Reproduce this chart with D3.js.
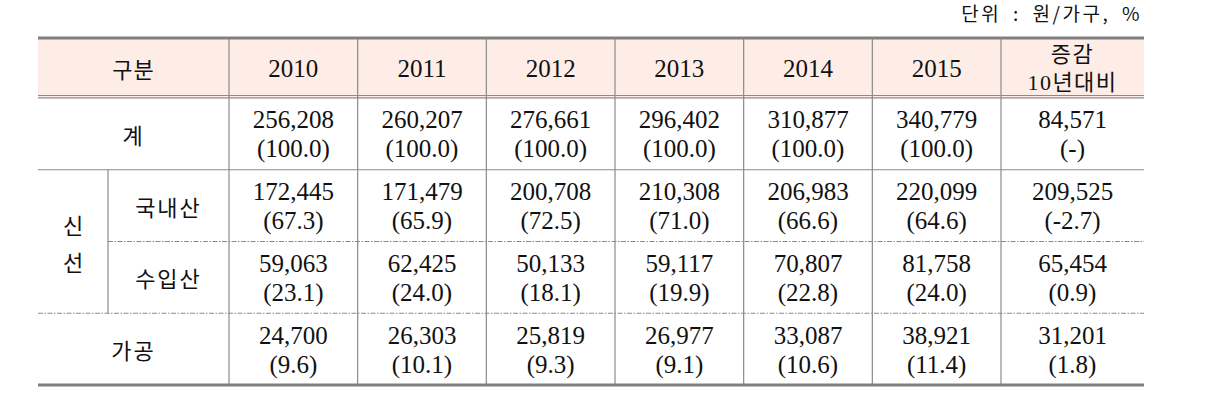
<!DOCTYPE html>
<html>
<head>
<meta charset="utf-8">
<script src="https://cdn.jsdelivr.net/npm/d3@7"></script>
<style>
  body { margin: 0; background: #fff; }
  text { font-family: "Liberation Serif", "Noto Sans CJK KR", serif; fill: #111; }
  .ko { font-family: "Noto Sans CJK KR", sans-serif; }
</style>
</head>
<body>
<script>
// columns
var years = ["2010", "2011", "2012", "2013", "2014", "2015"];
var changeHead = ["증감", "10년대비"];
// rows
var rowKeys = ["계", "국내산", "수입산", "가공"];
var groupLabel = ["신", "선"];
// values (원/가구), years then 10년대비 change
var totalVals    = [256208, 260207, 276661, 296402, 310877, 340779, 84571];
var domesticVals = [172445, 171479, 200708, 210308, 206983, 220099, 209525];
var importVals   = [59063, 62425, 50133, 59117, 70807, 81758, 65454];
var processVals  = [24700, 26303, 25819, 26977, 33087, 38921, 31201];
// shares (%)
var totalShare    = [100.0, 100.0, 100.0, 100.0, 100.0, 100.0, null];
var domesticShare = [67.3, 65.9, 72.5, 71.0, 66.6, 64.6, -2.7];
var importShare   = [23.1, 24.0, 18.1, 19.9, 22.8, 24.0, 0.9];
var processShare  = [9.6, 10.1, 9.3, 9.1, 10.6, 11.4, 1.8];

var rows = [
  {key: "계", vals: totalVals, share: totalShare},
  {key: "국내산", vals: domesticVals, share: domesticShare},
  {key: "수입산", vals: importVals, share: importShare},
  {key: "가공", vals: processVals, share: processShare}
];

// note: "top" is taken by window.top, so tTop/tBottom
var tLeft = 38, tRight = 1144, labelRight = 229, subLeft = 108;
var tTop = 38, headBottom = 97, tBottom = 385;
var grid = "#8a8a8a";

var cols = years.concat(["chg"]);
// year columns share one width, change column is a bit wider
var x = d3.scaleBand().domain(years).range([labelRight, 1001]);
var colX = c => c === "chg" ? 1001 : x(c);
var colW = c => c === "chg" ? tRight - 1001 : x.bandwidth();

var y = d3.scaleBand().domain(rowKeys).range([headBottom + 1, tBottom]);

var svg = d3.select("body").append("svg")
  .attr("width", 1217)
  .attr("height", 401);

// unit note
svg.append("text")
  .attr("class", "ko")
  .attr("x", tRight - 2)
  .attr("y", 21)
  .attr("text-anchor", "end")
  .attr("font-size", 19)
  .attr("letter-spacing", 2.5)
  .attr("word-spacing", 5)
  .text("단위 : 원/가구, %");

// header background
svg.append("rect")
  .attr("x", tLeft).attr("y", tTop)
  .attr("width", tRight - tLeft).attr("height", headBottom - tTop)
  .attr("fill", "#fdede6");

// vertical grid lines
svg.selectAll("line.v")
  .data(cols)
  .enter().append("line")
  .attr("class", "v")
  .attr("x1", d => colX(d)).attr("x2", d => colX(d))
  .attr("y1", tTop).attr("y2", tBottom)
  .attr("stroke", grid).attr("stroke-width", 1.2);

svg.append("line")
  .attr("x1", subLeft).attr("x2", subLeft)
  .attr("y1", y("국내산")).attr("y2", y("가공"))
  .attr("stroke", grid).attr("stroke-width", 1.2);

// header double line
[headBottom - 1.5, headBottom + 0.8].forEach(function(yy) {
  svg.append("line")
    .attr("x1", tLeft).attr("x2", tRight)
    .attr("y1", yy).attr("y2", yy)
    .attr("stroke", grid).attr("stroke-width", 1.2);
});

// solid line under 계
svg.append("line")
  .attr("x1", tLeft).attr("x2", tRight)
  .attr("y1", y("국내산")).attr("y2", y("국내산"))
  .attr("stroke", grid).attr("stroke-width", 1.2);

// dashed lines
svg.append("line")
  .attr("x1", subLeft).attr("x2", tRight)
  .attr("y1", y("수입산")).attr("y2", y("수입산"))
  .attr("stroke", grid).attr("stroke-width", 1)
  .attr("stroke-dasharray", "5,1.5,1.5,1.5");
svg.append("line")
  .attr("x1", tLeft).attr("x2", tRight)
  .attr("y1", y("가공")).attr("y2", y("가공"))
  .attr("stroke", grid).attr("stroke-width", 1)
  .attr("stroke-dasharray", "5,1.5,1.5,1.5");

// thick top / bottom rules
[tTop, tBottom].forEach(function(yy) {
  svg.append("line")
    .attr("x1", tLeft).attr("x2", tRight)
    .attr("y1", yy).attr("y2", yy)
    .attr("stroke", "#808080").attr("stroke-width", 3);
});

// header texts
var hMid = (tTop + headBottom) / 2;
svg.append("text")
  .attr("class", "ko")
  .attr("x", (tLeft + labelRight) / 2).attr("y", hMid)
  .attr("text-anchor", "middle").attr("dominant-baseline", "central")
  .attr("font-size", 22).attr("letter-spacing", 1)
  .text("구분");

svg.selectAll("text.year")
  .data(years)
  .enter().append("text")
  .attr("class", "year")
  .attr("x", d => x(d) + x.bandwidth() / 2).attr("y", hMid + 1)
  .attr("text-anchor", "middle").attr("dominant-baseline", "central")
  .attr("font-size", 25)
  .text(d => d);

svg.selectAll("text.chg")
  .data(changeHead)
  .enter().append("text")
  .attr("class", "chg")
  .attr("x", colX("chg") + colW("chg") / 2)
  .attr("y", (d, i) => hMid - 13 + i * 28)
  .attr("text-anchor", "middle").attr("dominant-baseline", "central")
  .attr("font-size", 22).attr("letter-spacing", 1.5)
  .text(d => d);

// row labels
var rowLabel = function(key, cx) {
  svg.append("text")
    .attr("class", "ko")
    .attr("x", cx).attr("y", y(key) + y.bandwidth() / 2)
    .attr("text-anchor", "middle").attr("dominant-baseline", "central")
    .attr("font-size", 22).attr("letter-spacing", 2)
    .text(key);
};
rowLabel("계", (tLeft + labelRight) / 2);
rowLabel("가공", (tLeft + labelRight) / 2);
rowLabel("국내산", (subLeft + labelRight) / 2);
rowLabel("수입산", (subLeft + labelRight) / 2);

var groupMid = (y("국내산") + y("가공")) / 2;
svg.selectAll("text.grp")
  .data(groupLabel)
  .enter().append("text")
  .attr("class", "ko grp")
  .attr("x", (tLeft + subLeft) / 2)
  .attr("y", (d, i) => groupMid - 18 + i * 37)
  .attr("text-anchor", "middle").attr("dominant-baseline", "central")
  .attr("font-size", 22)
  .text(d => d);

// cells
var fmt = d3.format(",");
var shareText = v => v === null ? "(-)" : "(" + v.toFixed(1) + ")";

rows.forEach(function(r) {
  var g = svg.append("g");
  var cy = y(r.key) + y.bandwidth() / 2;
  g.selectAll("text.v")
    .data(cols)
    .enter().append("text")
    .attr("x", c => colX(c) + colW(c) / 2)
    .attr("y", cy - 14)
    .attr("text-anchor", "middle").attr("dominant-baseline", "central")
    .attr("font-size", 25)
    .text((c, i) => fmt(r.vals[i]));
  g.selectAll("text.s")
    .data(cols)
    .enter().append("text")
    .attr("x", c => colX(c) + colW(c) / 2)
    .attr("y", cy + 15)
    .attr("text-anchor", "middle").attr("dominant-baseline", "central")
    .attr("font-size", 25)
    .text((c, i) => shareText(r.share[i]));
});
</script>
</body>
</html>
